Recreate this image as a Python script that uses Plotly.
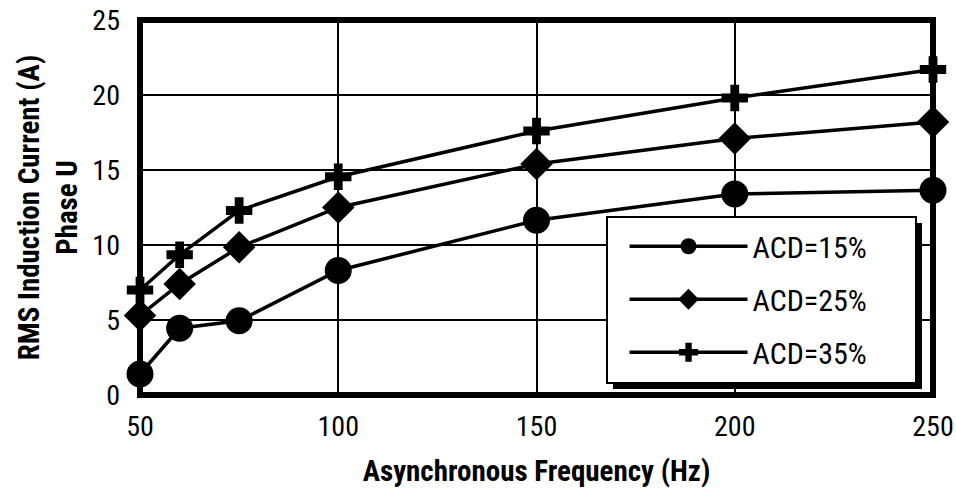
import plotly.graph_objects as go

freq = [50, 60, 75, 100, 150, 200, 250]
acd15 = [1.4, 4.45, 4.95, 8.3, 11.65, 13.4, 13.65]
acd25 = [5.3, 7.4, 9.85, 12.5, 15.4, 17.1, 18.2]
acd35 = [7.0, 9.35, 12.3, 14.55, 17.6, 19.8, 21.7]
names = ["ACD=15%", "ACD=25%", "ACD=35%"]
symbols = ["circle", "diamond", "cross"]
sizes = [27, 25, 22]

FONT = "Roboto Condensed, Liberation Sans Narrow, DejaVu Sans Condensed, sans-serif"

fig = go.Figure()
for i, (ys, nm, sym, sz) in enumerate(zip([acd15, acd25, acd35], names, symbols, sizes)):
    fig.add_trace(go.Scatter(
        x=freq, y=ys, name=nm, mode="lines+markers",
        legendgroup=f"g{i}",
        line=dict(color="black", width=3.5),
        marker=dict(symbol=sym, size=sz, color="black"),
        cliponaxis=False,
    ))

# plot frame (thick box)
fig.add_shape(type="rect", xref="paper", yref="paper",
              x0=0, x1=1, y0=0, y1=1,
              line=dict(color="black", width=6), layer="above")
# legend shadow and box
fig.add_shape(type="rect", xref="paper", yref="paper",
              x0=0.5965, x1=0.9861, y0=0.016, y1=0.4587,
              fillcolor="black", line=dict(width=0), layer="above")
fig.add_shape(type="rect", xref="paper", yref="paper",
              x0=0.5889, x1=0.9786, y0=0.032, y1=0.4747,
              fillcolor="white", line=dict(color="black", width=2), layer="above")

fig.update_layout(
    width=956, height=503,
    margin=dict(l=140, r=23, t=20, b=108),
    paper_bgcolor="white", plot_bgcolor="white",
    font=dict(family=FONT, size=28, color="black"),
    showlegend=True,
    legend=dict(
        x=0.611, y=0.466, xanchor="left", yanchor="top",
        bgcolor="rgba(0,0,0,0)", borderwidth=0,
        font=dict(family=FONT, size=30, color="black"),
        itemwidth=118, tracegroupgap=11,
    ),
    xaxis=dict(
        range=[50, 250], tickvals=[50, 100, 150, 200, 250],
        showgrid=True, gridcolor="black", gridwidth=2,
        showline=False, ticks="", zeroline=False, automargin=False,
        ticklabelstandoff=12,
        title=dict(text="<b>Asynchronous Frequency (Hz)</b>",
                   font=dict(family=FONT, size=29), standoff=18),
    ),
    yaxis=dict(
        range=[0, 25], tickvals=[0, 5, 10, 15, 20, 25],
        showgrid=True, gridcolor="black", gridwidth=2,
        showline=False, ticks="", zeroline=False, automargin=False,
        ticklabelstandoff=19,
        title=dict(text="<b>RMS Induction Current (A)<br>Phase U</b>",
                   font=dict(family=FONT, size=29), standoff=6),
    ),
)

fig.write_html("out.html",
               config={"displayModeBar": False},
               post_script="document.body.style.margin='0';document.body.style.overflow='hidden';")
